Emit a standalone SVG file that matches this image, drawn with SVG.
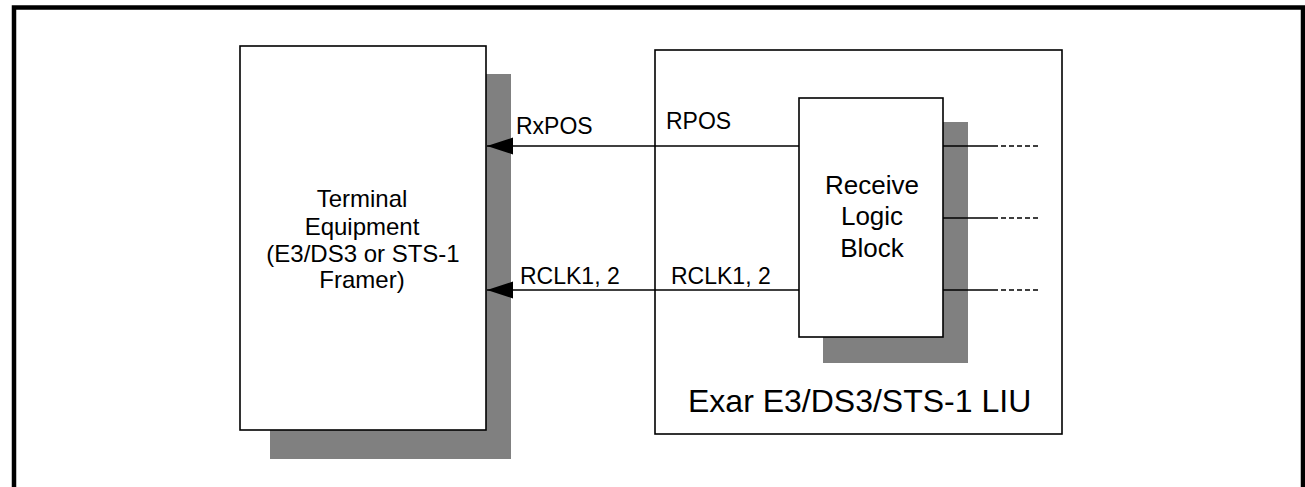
<svg xmlns="http://www.w3.org/2000/svg" width="1305" height="487" viewBox="0 0 1305 487">
<style>
  text { font-family: "Liberation Sans", Arial, sans-serif; fill: #000; }
  .box { fill: #fff; stroke: #000; stroke-width: 1.6; }
  .shadow { fill: #808080; stroke: none; }
  .wire { stroke: #000; stroke-width: 1.6; fill: none; }
  .dash { stroke: #000; stroke-width: 1.6; fill: none; stroke-dasharray: 5 3; }
  .lbl { font-size: 23px; }
  .mid { text-anchor: middle; }
</style>
<defs>
  <marker id="arrow" markerUnits="userSpaceOnUse" markerWidth="27" markerHeight="18" refX="26" refY="8.5" orient="auto">
    <polygon points="0,0 26,8.5 0,17" fill="#000"/>
  </marker>
</defs>
<rect width="1305" height="487" fill="#fff"/>
<path d="M14,487 V7.5 H1303 V487" fill="none" stroke="#000" stroke-width="4.5"/>

<g id="terminal">
  <rect class="shadow" x="270" y="74" width="241" height="385"/>
  <rect class="box" x="240" y="46" width="246" height="384"/>
  <text class="mid" x="362" y="207" font-size="24">Terminal</text>
  <text class="mid" x="362" y="235" font-size="24">Equipment</text>
  <text class="mid" x="363" y="262" font-size="24">(E3/DS3 or STS-1</text>
  <text class="mid" x="362" y="288" font-size="24">Framer)</text>
</g>

<g id="liu">
  <rect class="box" x="655" y="50" width="407" height="384"/>
  <text x="688" y="412" font-size="32">Exar E3/DS3/STS-1 LIU</text>
</g>

<g id="receive">
  <rect class="shadow" x="823" y="122" width="145" height="241"/>
  <rect class="box" x="799" y="98" width="144" height="239"/>
  <text class="mid" x="872" y="194" font-size="26">Receive</text>
  <text class="mid" x="872" y="225" font-size="26">Logic</text>
  <text class="mid" x="872" y="257" font-size="26">Block</text>
</g>

<g id="connectors">
  <line class="wire" x1="799" y1="146" x2="487" y2="146" marker-end="url(#arrow)"/>
  <line class="wire" x1="799" y1="290" x2="487" y2="290" marker-end="url(#arrow)"/>
  <line class="wire" x1="943" y1="146" x2="993" y2="146"/>
  <line class="dash" x1="993" y1="146" x2="1040" y2="146"/>
  <line class="wire" x1="943" y1="218" x2="993" y2="218"/>
  <line class="dash" x1="993" y1="218" x2="1040" y2="218"/>
  <line class="wire" x1="943" y1="290" x2="993" y2="290"/>
  <line class="dash" x1="993" y1="290" x2="1040" y2="290"/>
  <text class="lbl" x="516" y="134">RxPOS</text>
  <text class="lbl" x="520" y="284">RCLK1, 2</text>
  <text class="lbl" x="666" y="129">RPOS</text>
  <text class="lbl" x="671" y="284">RCLK1, 2</text>
</g>
</svg>
